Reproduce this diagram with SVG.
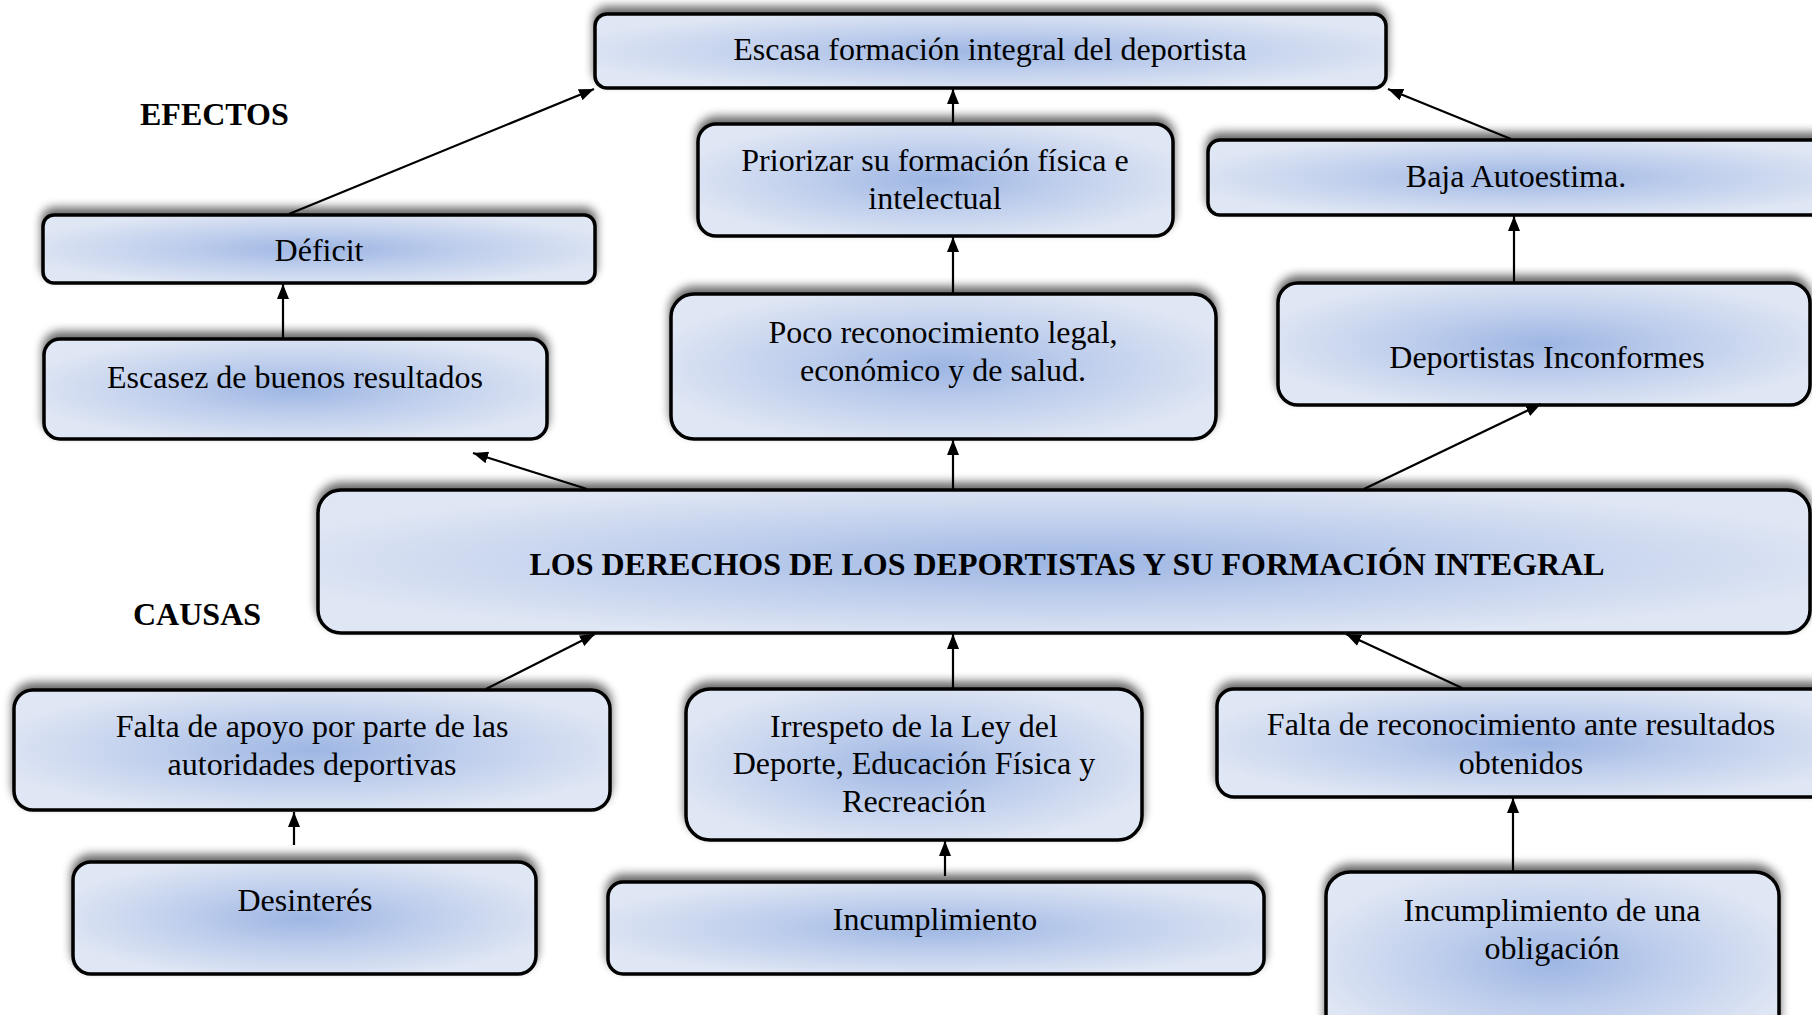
<svg xmlns="http://www.w3.org/2000/svg" width="1812" height="1015" viewBox="0 0 1812 1015">
<defs>
<style>
.box{fill:url(#g);stroke:#000;stroke-width:3.5;filter:url(#sh)}
.t{font-family:"Liberation Serif","Times New Roman",serif;font-size:32px;text-anchor:middle;fill:#000}
.b{font-family:"Liberation Serif","Times New Roman",serif;font-size:32px;font-weight:bold;fill:#000}
.c line{stroke:#000;stroke-width:2.2;marker-end:url(#ah)}
</style>
<radialGradient id="g" cx="0.5" cy="0.5" r="0.55">
<stop offset="0" stop-color="#9db6e3"/>
<stop offset="0.45" stop-color="#bdcdec"/>
<stop offset="0.8" stop-color="#d3ddf1"/>
<stop offset="1" stop-color="#dfe6f4"/>
</radialGradient>
<filter id="sh" x="-5%" y="-30%" width="110%" height="160%">
<feGaussianBlur in="SourceAlpha" stdDeviation="5"/>
<feOffset dx="0" dy="-6" result="o"/>
<feComponentTransfer><feFuncA type="linear" slope="0.6"/></feComponentTransfer>
<feMerge><feMergeNode/><feMergeNode in="SourceGraphic"/></feMerge>
</filter>
<marker id="ah" markerUnits="userSpaceOnUse" markerWidth="16" markerHeight="12" refX="15" refY="6" orient="auto">
<path d="M0,0 L15,6 L0,12 z" fill="#000"/>
</marker>
</defs>
<rect width="1812" height="1015" fill="#fff"/>

<text class="b" x="140" y="125">EFECTOS</text>
<text class="b" x="133" y="625">CAUSAS</text>

<g id="escasa"><rect class="box" x="595" y="14" width="791" height="74" rx="12"/><text class="t" x="990" y="60">Escasa formación integral del deportista</text></g>
<g id="priorizar"><rect class="box" x="698" y="124" width="475" height="112" rx="18"/><text class="t" x="935" y="171">Priorizar su formación física e</text><text class="t" x="935" y="209">intelectual</text></g>
<g id="baja"><rect class="box" x="1208" y="140" width="640" height="75" rx="12"/><text class="t" x="1516" y="187">Baja Autoestima.</text></g>
<g id="deficit"><rect class="box" x="43" y="215" width="552" height="68" rx="11"/><text class="t" x="319" y="261">Déficit</text></g>
<g id="escasez"><rect class="box" x="44" y="339" width="503" height="100" rx="16"/><text class="t" x="295" y="388">Escasez de buenos resultados</text></g>
<g id="poco"><rect class="box" x="671" y="294" width="545" height="145" rx="23"/><text class="t" x="943" y="343">Poco reconocimiento legal,</text><text class="t" x="943" y="381">económico y de salud.</text></g>
<g id="inconformes"><rect class="box" x="1278" y="283" width="532" height="122" rx="20"/><text class="t" x="1547" y="368">Deportistas Inconformes</text></g>
<g id="central"><rect class="box" x="318" y="490" width="1492" height="143" rx="23"/><text class="b" x="1067" y="575" text-anchor="middle">LOS DERECHOS DE LOS DEPORTISTAS Y SU FORMACIÓN INTEGRAL</text></g>
<g id="falta-apoyo"><rect class="box" x="14" y="690" width="596" height="120" rx="19"/><text class="t" x="312" y="737">Falta de apoyo por parte de las</text><text class="t" x="312" y="775">autoridades deportivas</text></g>
<g id="irrespeto"><rect class="box" x="686" y="689" width="456" height="151" rx="24"/><text class="t" x="914" y="737">Irrespeto de la Ley del</text><text class="t" x="914" y="774">Deporte, Educación Física y</text><text class="t" x="914" y="812">Recreación</text></g>
<g id="falta-reconocimiento"><rect class="box" x="1217" y="689" width="640" height="108" rx="17"/><text class="t" x="1521" y="735">Falta de reconocimiento ante resultados</text><text class="t" x="1521" y="774">obtenidos</text></g>
<g id="desinteres"><rect class="box" x="73" y="862" width="463" height="112" rx="18"/><text class="t" x="305" y="911">Desinterés</text></g>
<g id="incumplimiento"><rect class="box" x="608" y="882" width="656" height="92" rx="15"/><text class="t" x="935" y="930">Incumplimiento</text></g>
<g id="obligacion"><rect class="box" x="1326" y="872" width="453" height="180" rx="24"/><text class="t" x="1552" y="921">Incumplimiento de una</text><text class="t" x="1552" y="959">obligación</text></g>

<g id="connectors" class="c">
<line x1="289" y1="214" x2="594" y2="89"/>
<line x1="953" y1="123" x2="953" y2="89"/>
<line x1="1511" y1="139" x2="1388" y2="89"/>
<line x1="283" y1="338" x2="283" y2="284"/>
<line x1="953" y1="293" x2="953" y2="237"/>
<line x1="1514" y1="282" x2="1514" y2="216"/>
<line x1="587" y1="489" x2="473" y2="453"/>
<line x1="953" y1="489" x2="953" y2="440"/>
<line x1="1364" y1="489" x2="1541" y2="404"/>
<line x1="486" y1="689" x2="595" y2="634"/>
<line x1="953" y1="688" x2="953" y2="634"/>
<line x1="1462" y1="688" x2="1346" y2="634"/>
<line x1="294" y1="845" x2="294" y2="812"/>
<line x1="945" y1="876" x2="945" y2="841"/>
<line x1="1513" y1="871" x2="1513" y2="798"/>
</g>
</svg>
